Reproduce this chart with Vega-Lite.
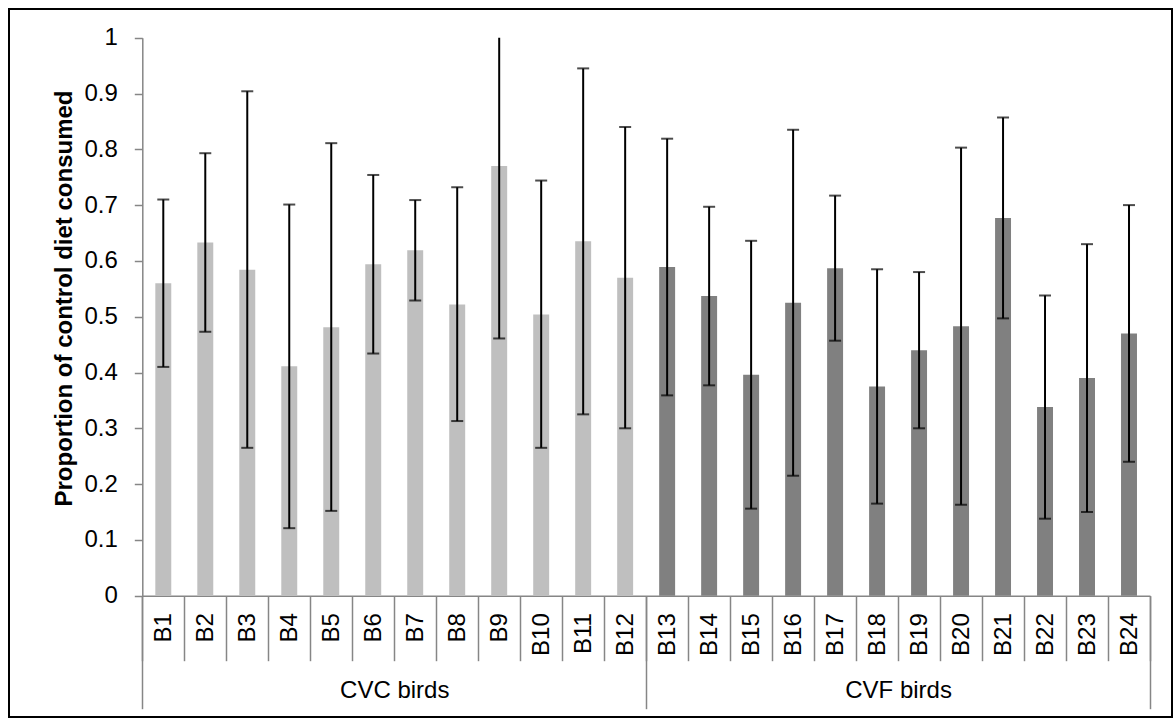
{
  "$schema": "https://vega.github.io/schema/vega-lite/v6.json",
  "width": 1163,
  "height": 708,
  "autosize": {"type": "none"},
  "padding": {"left": 9, "top": 9, "right": 1, "bottom": 1},
  "background": "white",
  "config": {
    "view": {"stroke": "black", "strokeWidth": 2},
    "font": "Liberation Sans",
    "axis": {
      "labelFont": "Liberation Sans",
      "titleFont": "Liberation Sans",
      "labelColor": "black",
      "titleColor": "black",
      "domainColor": "#868686",
      "tickColor": "#868686",
      "domainWidth": 1.5,
      "tickWidth": 1.5,
      "grid": false
    }
  },
  "data": {
    "values": [
      {"bird": "B1", "group": "CVC birds", "mean": 0.560, "lo": 0.410, "hi": 0.710},
      {"bird": "B2", "group": "CVC birds", "mean": 0.633, "lo": 0.473, "hi": 0.793},
      {"bird": "B3", "group": "CVC birds", "mean": 0.584, "lo": 0.265, "hi": 0.904},
      {"bird": "B4", "group": "CVC birds", "mean": 0.411, "lo": 0.121, "hi": 0.701},
      {"bird": "B5", "group": "CVC birds", "mean": 0.481, "lo": 0.152, "hi": 0.811},
      {"bird": "B6", "group": "CVC birds", "mean": 0.594, "lo": 0.434, "hi": 0.754},
      {"bird": "B7", "group": "CVC birds", "mean": 0.619, "lo": 0.529, "hi": 0.709},
      {"bird": "B8", "group": "CVC birds", "mean": 0.522, "lo": 0.313, "hi": 0.732},
      {"bird": "B9", "group": "CVC birds", "mean": 0.770, "lo": 0.461, "hi": 1.079},
      {"bird": "B10", "group": "CVC birds", "mean": 0.504, "lo": 0.265, "hi": 0.744},
      {"bird": "B11", "group": "CVC birds", "mean": 0.635, "lo": 0.325, "hi": 0.945},
      {"bird": "B12", "group": "CVC birds", "mean": 0.570, "lo": 0.300, "hi": 0.840},
      {"bird": "B13", "group": "CVF birds", "mean": 0.589, "lo": 0.359, "hi": 0.819},
      {"bird": "B14", "group": "CVF birds", "mean": 0.537, "lo": 0.377, "hi": 0.697},
      {"bird": "B15", "group": "CVF birds", "mean": 0.396, "lo": 0.156, "hi": 0.636},
      {"bird": "B16", "group": "CVF birds", "mean": 0.525, "lo": 0.215, "hi": 0.835},
      {"bird": "B17", "group": "CVF birds", "mean": 0.587, "lo": 0.457, "hi": 0.717},
      {"bird": "B18", "group": "CVF birds", "mean": 0.375, "lo": 0.165, "hi": 0.585},
      {"bird": "B19", "group": "CVF birds", "mean": 0.440, "lo": 0.300, "hi": 0.580},
      {"bird": "B20", "group": "CVF birds", "mean": 0.483, "lo": 0.163, "hi": 0.803},
      {"bird": "B21", "group": "CVF birds", "mean": 0.677, "lo": 0.497, "hi": 0.857},
      {"bird": "B22", "group": "CVF birds", "mean": 0.338, "lo": 0.138, "hi": 0.538},
      {"bird": "B23", "group": "CVF birds", "mean": 0.390, "lo": 0.150, "hi": 0.630},
      {"bird": "B24", "group": "CVF birds", "mean": 0.470, "lo": 0.240, "hi": 0.700}
    ]
  },
  "layer": [
    {
      "encoding": {
        "x": {
          "field": "bird",
          "type": "nominal",
          "sort": null,
          "scale": {"range": [133.3, 1141], "paddingInner": 0, "paddingOuter": 0},
          "axis": {
            "title": null,
            "orient": "bottom",
            "offset": -121.3,
            "tickBand": "extent",
            "tickSize": 65,
            "labelAngle": -90,
            "labelPadding": -48,
            "labelFontSize": 24
          }
        }
      },
      "layer": [
        {
          "mark": {"type": "bar", "width": {"band": 0.38}},
          "encoding": {
            "y": {
              "field": "mean",
              "type": "quantitative",
              "scale": {"domain": [0, 1], "range": [586.7, 28.7], "clamp": true, "nice": false},
              "axis": {
                "title": "Proportion of control diet consumed",
                "offset": -133.3,
                "values": [0, 0.1, 0.2, 0.3, 0.4, 0.5, 0.6, 0.7, 0.8, 0.9, 1],
                "format": "~g",
                "tickSize": 8,
                "labelPadding": 17,
                "labelFontSize": 24,
                "titleFontSize": 24,
                "titleFontWeight": "bold",
                "titleAngle": -90,
                "titleBaseline": "middle",
                "titleAlign": "center",
                "titleX": -78,
                "titleY": 289
              }
            },
            "color": {
              "field": "group",
              "type": "nominal",
              "scale": {"domain": ["CVC birds", "CVF birds"], "range": ["#BFBFBF", "#808080"]},
              "legend": null
            }
          }
        },
        {
          "mark": {"type": "rule", "color": "black", "strokeWidth": 2},
          "encoding": {
            "y": {"field": "lo", "type": "quantitative"},
            "y2": {"field": "hi"}
          }
        },
        {
          "mark": {"type": "tick", "color": "black", "thickness": 2, "size": 12},
          "encoding": {
            "y": {"field": "lo", "type": "quantitative"}
          }
        },
        {
          "transform": [{"filter": "datum.hi <= 1"}],
          "mark": {"type": "tick", "color": "black", "thickness": 2, "size": 12},
          "encoding": {
            "y": {"field": "hi", "type": "quantitative"}
          }
        }
      ]
    },
    {
      "mark": {"type": "point", "opacity": 0},
      "encoding": {
        "x": {
          "field": "group",
          "type": "nominal",
          "sort": null,
          "scale": {"type": "band", "range": [133.3, 1141], "paddingInner": 0, "paddingOuter": 0},
          "axis": {
            "title": null,
            "orient": "bottom",
            "offset": -121.3,
            "domain": false,
            "tickBand": "extent",
            "tickSize": 113,
            "labelAngle": 0,
            "labelPadding": -30,
            "labelFontSize": 24
          }
        }
      }
    }
  ],
  "resolve": {"scale": {"x": "independent"}}
}
